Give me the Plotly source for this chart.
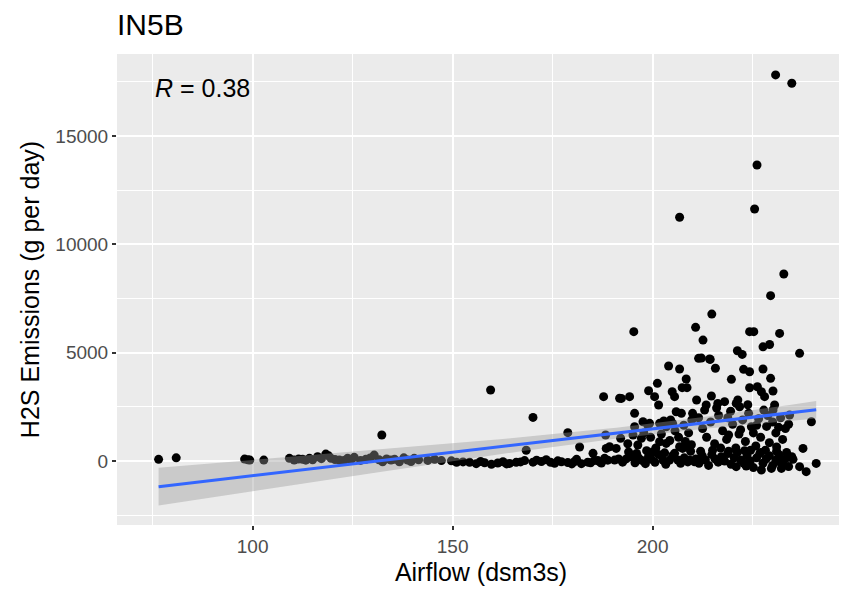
import numpy as np
import plotly.graph_objects as go

# ----- data (Airflow dsm3s vs H2S g/day) -----
# left tail, x < 145
air_left = [76.5, 80.9, 98.0, 98.8, 99.3, 102.8, 109.2, 110.4, 111.5, 112.5,
            113.3, 114.2, 115.0, 116.25, 117.2, 118.3, 119.0, 119.6, 120.6, 121.7,
            122.8, 123.75, 124.6, 125.4, 127.0, 128.3, 129.4, 130.4, 131.6, 132.3,
            132.5, 133.5, 134.6, 135.5, 136.7, 137.8, 138.75, 139.6, 140.4, 141.5,
            143.8]
h2s_left = [80, 150, 90, 60, 45, 45, 125, 45, 90, 80,
            40, 125, 60, 200, 110, 320, 240, 125, 70, 45,
            20, 125, 60, 170, 30, 80, 140, 275, 60, 1200,
            -30, 100, 45, 80, -30, 150, 45, -20, 125, 60,
            30]

# flat band, 145 - 190
air_band = [145.5, 147.2, 149.7, 151.0, 152.6, 154.25, 155.9, 157.0, 158.0, 159.5,
            159.7, 161.3, 162.6, 163.5, 164.25, 165.9, 167.0, 168.0, 168.4, 170.1,
            170.1, 171.0, 172.2, 173.4, 174.5, 175.5, 176.3, 177.2, 178.8, 178.8,
            179.8, 180.5, 181.0, 181.75, 182.2, 183.8, 184.5, 185.1, 185.5, 186.3,
            186.75, 187.2, 187.75, 188.0, 188.25, 188.4, 188.8, 189.25]
h2s_band = [80, 20, 10, -60, -40, -60, -120, -20, -80, 3280,
            -150, -90, -30, -130, -110, -60, -40, 20, 500, 2015,
            -50, 40, -20, 60, -60, -100, 10, -30, -70, 1310,
            -130, -20, 80, 650, -120, -50, -80, 355, 30, 20,
            -30, -90, 2970, 125, 1200, 585, 40, 660]

# west part of the dense cluster, 190 - 210.5
air_west = [190.5, 190.9, 191.5, 191.75, 192.0, 192.2, 192.5, 193.4, 193.8, 194.0,
            194.25, 194.6, 195.1, 195.3, 195.5, 195.5, 195.6, 196.0, 196.3, 196.5,
            197.2, 197.3, 197.6, 197.8, 198.2, 198.5, 198.8, 199.0, 199.0, 199.25,
            199.5, 199.7, 200.0, 200.5, 200.6, 200.8, 201.2, 201.5, 201.5, 201.75,
            201.75, 202.2, 202.6, 202.8, 203.0, 203.3, 203.4, 203.4, 204.0, 204.25,
            204.3, 204.5, 204.9, 205.0, 205.0, 205.5, 205.5, 205.6, 205.9, 206.3,
            206.5, 206.75, 206.75, 206.75, 207.0, 207.2, 207.4, 207.5, 207.8, 207.9,
            208.0, 208.2, 208.4, 208.6, 208.8, 209.0, 209.25, 209.5, 209.7, 209.8,
            210.0, 210.5]
h2s_west = [45, 585, 100, 2900, 1050, 2890, -50, 100, 800, 420,
            2970, 200, 1200, 5970, 2200, 1585, -80, 350, 740, 150,
            1050, 30, 1815, 1300, -120, 480, 1650, 3245, 220, 1740,
            1100, 80, 420, 2970, -60, 600, 3585, 2585, 300, 1740,
            890, 1250, 45, 1850, 380, -150, 1585, 815, 4385, 45,
            950, 1900, 3200, 1740, 250, 2970, 355, 1400, 2275, 45,
            1100, 4245, 660, 11250, -100, 2200, 3385, 585, 1650, 150,
            660, 900, 3785, 3385, -40, 1300, 45, 450, 750, 1900,
            2200, -30]

# east part, high values and spikes
air_east_hi = [210.75, 211.0, 211.5, 212.2, 212.6, 213.4, 214.25, 214.4, 214.7, 214.8,
               215.7, 216.3, 218.0, 219.7, 220.9, 221.2, 221.3, 221.75, 222.4, 222.75,
               224.25, 224.25, 224.25, 225.3, 225.5, 226.1, 226.2, 227.2, 227.6, 227.6,
               228.0, 229.25, 229.5, 229.5, 230.1, 230.1, 230.5, 230.75, 231.75, 232.8,
               234.25, 234.8, 236.75, 239.7, 224.7, 231.5, 237.6, 235.1, 236.75, 238.4,
               240.9, 227.2, 229.7, 231.75, 220.9, 223.4, 232.2]
h2s_east_hi = [6170, 2815, 4740, 4750, 5580, 2585, 4710, 4690, 3000, 6780,
               4280, 2660, 2740, 3770, 2660, 5090, 2815, 2505, 4920, 4230,
               4120, 5970, 3380, 5970, 11630, 13660, 3430, 3200, 5270, 4245,
               2970, 5380, 3815, 7630, 3230, 2355, 2585, 17815, 5890, 8630,
               2120, 17430, 4970, 1815, 1585, 1555, 585, 80, -260, -490,
               -110, -415, -340, -30, -260, -230, -340]

# east part, middle values
air_east_mid = [211.5, 212.5, 213.5, 214.5, 215.5, 216.5, 217.5, 218.5, 219.5, 220.0,
                220.8, 221.6, 222.5, 223.2, 224.0, 225.2, 225.8, 226.5, 227.0, 227.8,
                228.5, 229.2, 230.0, 230.8, 231.0, 232.0, 232.5, 233.2, 234.0, 228.2,
                216.0, 218.8, 213.0, 222.0, 226.0, 223.8, 228.8, 219.0, 217.0, 224.5]
h2s_east_mid = [2000, 1500, 1100, 1800, 800, 2100, 1400, 1000, 2300, 1700,
                600, 1250, 1900, 900, 2200, 1300, 700, 1950, 1100, 2350,
                1600, 850, 1800, 1300, 650, 2000, 1000, 1500, 1700, 500,
                2450, 2000, 2350, 1450, 1650, 2600, 2100, 1200, 600, 500]

# east part, values near zero
air_east_lo = [210.8, 211.6, 212.4, 213.2, 214.0, 214.8, 215.6, 216.4, 217.2, 218.0,
               218.8, 219.6, 220.4, 221.2, 222.0, 222.8, 223.6, 224.4, 225.2, 226.0,
               226.8, 227.6, 228.4, 229.2, 230.0, 230.8, 231.6, 232.4, 233.2, 234.0,
               234.8, 212.0, 215.0, 219.0, 223.0, 227.0, 231.0, 233.5]
h2s_east_lo = [100, -100, 250, 50, -200, 300, 100, -50, 200, 0,
               350, -150, 150, 400, 50, -100, 250, 0, -300, 150,
               350, -100, 100, 250, -200, 50, 300, -150, 100, -250,
               200, 450, 500, 450, 480, 400, 450, 400]

x = np.array(air_left + air_band + air_west + air_east_hi + air_east_mid + air_east_lo, dtype=float)
y = np.array(h2s_left + h2s_band + h2s_west + h2s_east_hi + h2s_east_mid + h2s_east_lo, dtype=float)

# linear fit + 95% confidence band (like geom_smooth(method = "lm"))
n = len(x)
b1, b0 = np.polyfit(x, y, 1)
resid = y - (b0 + b1 * x)
s = np.sqrt(np.sum(resid ** 2) / (n - 2))
sxx = np.sum((x - x.mean()) ** 2)
xs = np.linspace(x.min(), x.max(), 80)
fit = b0 + b1 * xs
se = s * np.sqrt(1 / n + (xs - x.mean()) ** 2 / sxx)
t975 = 1.968
upper = fit + t975 * se
lower = fit - t975 * se

fig = go.Figure()

fig.add_trace(go.Scatter(
    x=x, y=y, mode="markers",
    marker=dict(color="black", size=9, line=dict(width=0)),
    showlegend=False, hoverinfo="skip"
))

fig.add_trace(go.Scatter(
    x=np.concatenate([xs, xs[::-1]]),
    y=np.concatenate([upper, lower[::-1]]),
    fill="toself", fillcolor="rgba(153,153,153,0.4)",
    line=dict(width=0), mode="lines",
    showlegend=False, hoverinfo="skip"
))

fig.add_trace(go.Scatter(
    x=xs, y=fit, mode="lines",
    line=dict(color="#3366FF", width=3),
    showlegend=False, hoverinfo="skip"
))

fig.add_annotation(
    x=75, y=17200, xref="x", yref="y",
    text="<i>R</i> = 0.38", showarrow=False,
    xanchor="left", yanchor="middle",
    font=dict(family="Liberation Sans, Arial", size=25, color="black")
)

# page body adds an 8px offset, so the figure is a bit smaller than the window
fig.update_layout(
    width=839, height=584,
    margin=dict(l=109, r=2, t=46, b=67),
    paper_bgcolor="white",
    plot_bgcolor="#EBEBEB",
    font=dict(family="Liberation Sans, Arial", color="black"),
    title=dict(
        text="IN5B", x=0, xref="paper", xanchor="left",
        y=0.972, yref="container", yanchor="middle",
        font=dict(size=30, color="black")
    ),
)

fig.update_xaxes(
    range=[66.1, 248.1],
    tick0=0, dtick=50, tickformat="d",
    showgrid=True, gridcolor="white", gridwidth=2,
    minor=dict(dtick=25, showgrid=True, gridcolor="white", gridwidth=1),
    zeroline=False, showline=False,
    ticks="outside", ticklen=4, tickwidth=1.5, tickcolor="#333333",
    tickfont=dict(size=19, color="#4D4D4D"),
    title=dict(text="Airflow (dsm3s)", font=dict(size=25, color="black"), standoff=7),
)

fig.update_yaxes(
    range=[-2950, 18780],
    tick0=0, dtick=5000, tickformat="d",
    showgrid=True, gridcolor="white", gridwidth=2,
    minor=dict(dtick=2500, showgrid=True, gridcolor="white", gridwidth=1),
    zeroline=False, showline=False,
    ticks="outside", ticklen=4, tickwidth=1.5, tickcolor="#333333",
    tickfont=dict(size=19, color="#4D4D4D"),
    title=dict(text="H2S Emissions (g per day)", font=dict(size=25, color="black"), standoff=8),
)

fig.write_html("out.html")
